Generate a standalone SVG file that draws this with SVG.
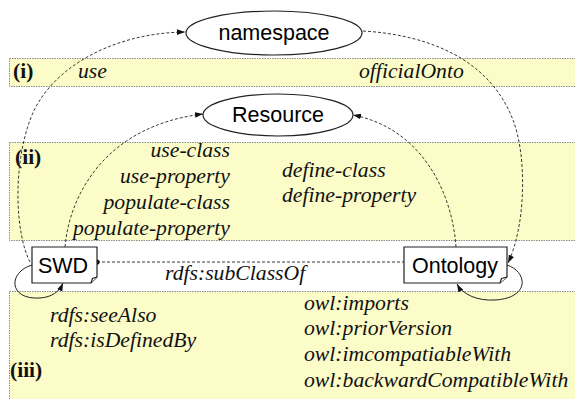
<svg xmlns="http://www.w3.org/2000/svg" width="575" height="399" viewBox="0 0 575 399">
<defs>
<style>
.band{fill:#fcfcc8;stroke:#8a8a8a;stroke-width:1;stroke-dasharray:1.5,1}
.lbl{font-family:"Liberation Serif","Times New Roman",serif;font-size:21.7px;font-style:italic;fill:#111}
.bold{font-family:"Liberation Serif","Times New Roman",serif;font-size:21.5px;font-weight:bold;fill:#111}
.node{fill:#fff;stroke:#222;stroke-width:1.2}
.ntext{font-family:"Liberation Sans",Arial,sans-serif;font-size:21.5px;fill:#000;text-anchor:middle}
.dash{fill:none;stroke:#222;stroke-width:0.9;stroke-dasharray:3,2}
.solid{fill:none;stroke:#222;stroke-width:1}
</style>
<marker id="arr" viewBox="0 0 10 10" refX="10" refY="5" markerWidth="8" markerHeight="8" markerUnits="userSpaceOnUse" orient="auto">
<path d="M0,1.5 L10,5 L0,8.5 Z" fill="#111"/>
</marker>
</defs>
<rect width="575" height="399" fill="#fff"/>
<g id="bands">
<rect class="band" x="9.5" y="58.5" width="570" height="28"/>
<rect class="band" x="9.5" y="142.5" width="570" height="98"/>
<rect class="band" x="9.5" y="291.5" width="570" height="115"/>
</g>
<g id="band-texts">
<text class="bold" x="13" y="78">(i)</text>
<text class="lbl" x="78" y="78">use</text>
<text class="lbl" x="359" y="78">officialOnto</text>
<text class="bold" x="15" y="164">(ii)</text>
<g text-anchor="end">
<text class="lbl" x="230" y="157">use-class</text>
<text class="lbl" x="230" y="183">use-property</text>
<text class="lbl" x="230" y="209">populate-class</text>
<text class="lbl" x="230" y="235">populate-property</text>
</g>
<text class="lbl" x="282" y="177">define-class</text>
<text class="lbl" x="282" y="202">define-property</text>
<text class="lbl" x="50" y="322">rdfs:seeAlso</text>
<text class="lbl" x="50" y="347">rdfs:isDefinedBy</text>
<text class="bold" x="10" y="377">(iii)</text>
<text class="lbl" x="304" y="310">owl:imports</text>
<text class="lbl" x="304" y="335">owl:priorVersion</text>
<text class="lbl" x="304" y="361">owl:imcompatiableWith</text>
<text class="lbl" x="304" y="387">owl:backwardCompatibleWith</text>
</g>
<g id="connectors">
<path class="dash" d="M30,262 C16,235 12,170 30,120 C48,70 110,33 185,32" marker-end="url(#arr)"/>
<path class="dash" d="M363,31 C430,35 490,60 513,120 C527,156 526,225 508,263" marker-end="url(#arr)"/>
<path class="dash" d="M65,247 C70,190 110,125 203,114" marker-end="url(#arr)"/>
<path class="dash" d="M456,247 C452,190 420,128 353,115" marker-end="url(#arr)"/>
<path class="dash" d="M97,262 H404"/>
<circle cx="97" cy="262" r="2.6" fill="#111"/>
<text class="lbl" x="165" y="280">rdfs:subClassOf</text>
<path class="solid" d="M32,265 C8,272 8,300 40,298 C52,297 59,292 63,283" marker-end="url(#arr)"/>
<path class="solid" d="M507,265 C528,272 530,298 495,300 C478,301 463,295 457,284" marker-end="url(#arr)"/>
</g>
<g id="namespace">
<ellipse class="node" cx="274" cy="33" rx="88" ry="22"/>
<text class="ntext" x="274" y="40">namespace</text>
</g>
<g id="resource">
<ellipse class="node" cx="278" cy="115" rx="75" ry="21"/>
<text class="ntext" x="278" y="122">Resource</text>
</g>
<g id="swd">
<path class="node" d="M32,247 H97 V277 L91,283 H32 Z"/>
<path class="node" d="M91,283 L92.5,278.5 L97,277"/>
<text class="ntext" x="63" y="273">SWD</text>
</g>
<g id="ontology">
<path class="node" d="M404,247 H507 V277 L500,283 H404 Z"/>
<path class="node" d="M500,283 L501.5,278.5 L507,277"/>
<text class="ntext" x="455" y="273">Ontology</text>
</g>
</svg>
